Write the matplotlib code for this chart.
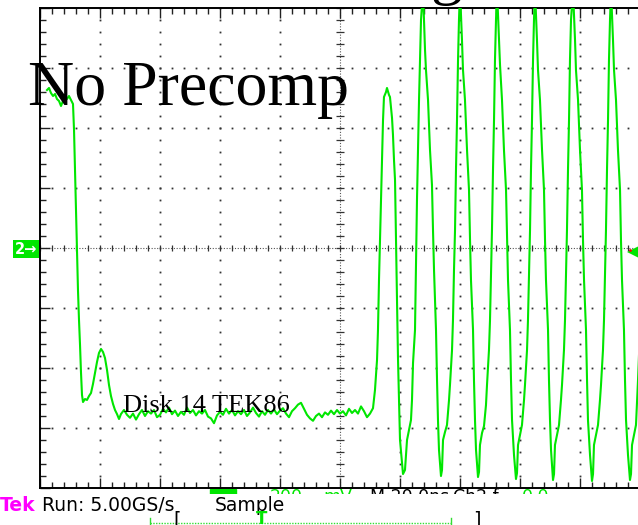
import matplotlib.pyplot as plt
from matplotlib.lines import Line2D
from matplotlib.patches import Rectangle
import numpy as np

# Channel 2 trace in screen divisions (10 x 8 graticule, 0 at centre line)
# leading high level, drop, and the small bump
lead_t = [0.117, 0.150, 0.183, 0.217, 0.250, 0.283, 0.317, 0.350, 0.383, 0.417,
          0.450, 0.483, 0.517, 0.550, 0.567, 0.583, 0.600, 0.617, 0.633, 0.650,
          0.667, 0.683, 0.700, 0.717, 0.750, 0.783, 0.817, 0.850, 0.883, 0.917,
          0.950, 0.983, 1.017, 1.050, 1.083, 1.117, 1.150, 1.183, 1.217, 1.250,
          1.283, 1.317, 1.350]
lead_v = [2.633, 2.667, 2.583, 2.533, 2.567, 2.483, 2.450, 2.367, 2.450, 2.517,
          2.483, 2.533, 2.467, 2.400, 1.967, 1.300, 0.633, -0.033, -0.700, -1.200,
          -1.617, -2.067, -2.450, -2.567, -2.517, -2.533, -2.467, -2.417, -2.267, -2.083,
          -1.900, -1.750, -1.683, -1.733, -1.833, -2.033, -2.283, -2.467, -2.600, -2.700,
          -2.767, -2.850, -2.767]

# noisy low level
base_t = [1.40, 1.45, 1.50, 1.55, 1.60, 1.65, 1.70, 1.75, 1.80, 1.85,
          1.90, 1.95, 2.00, 2.05, 2.10, 2.15, 2.20, 2.25, 2.30, 2.35,
          2.40, 2.45, 2.50, 2.55, 2.60, 2.65, 2.70, 2.75, 2.80, 2.85,
          2.90, 2.95, 3.00, 3.05, 3.10, 3.15, 3.20, 3.25, 3.30, 3.35,
          3.40, 3.45, 3.50, 3.55, 3.60, 3.65, 3.70, 3.75, 3.80, 3.85,
          3.90, 3.95, 4.00, 4.05, 4.10, 4.15, 4.20, 4.25, 4.30, 4.35,
          4.40, 4.45, 4.50, 4.55, 4.60, 4.65, 4.70, 4.75, 4.80, 4.85,
          4.90, 4.95, 5.00, 5.05, 5.10, 5.15, 5.20, 5.25, 5.30, 5.35,
          5.40, 5.45, 5.50, 5.55]
base_v = [-2.70, -2.78, -2.83, -2.76, -2.86, -2.77, -2.70, -2.80, -2.72, -2.76,
          -2.70, -2.82, -2.78, -2.68, -2.74, -2.66, -2.77, -2.71, -2.80, -2.73,
          -2.78, -2.66, -2.75, -2.70, -2.79, -2.72, -2.76, -2.70, -2.81, -2.84,
          -2.92, -2.79, -2.73, -2.78, -2.68, -2.76, -2.70, -2.79, -2.72, -2.77,
          -2.70, -2.80, -2.74, -2.66, -2.75, -2.81, -2.72, -2.78, -2.70, -2.76,
          -2.69, -2.77, -2.71, -2.67, -2.76, -2.82, -2.72, -2.67, -2.61, -2.58,
          -2.68, -2.78, -2.84, -2.88, -2.80, -2.76, -2.82, -2.74, -2.78, -2.71,
          -2.77, -2.70, -2.76, -2.72, -2.79, -2.68, -2.75, -2.70, -2.76, -2.64,
          -2.72, -2.82, -2.76, -2.67]

# isolated pulse followed by the oscillating burst (peaks run off screen)
burst_t = [5.583, 5.617, 5.633, 5.650, 5.667, 5.683, 5.700, 5.717, 5.733, 5.767,
           5.783, 5.817, 5.833, 5.867, 5.883, 5.900, 5.917, 5.933, 5.950, 5.967,
           5.983, 6.000, 6.033, 6.050, 6.083, 6.117, 6.150, 6.183, 6.200, 6.217,
           6.250, 6.267, 6.283, 6.300, 6.317, 6.333, 6.350, 6.383, 6.417, 6.433,
           6.467, 6.500, 6.533, 6.550, 6.567, 6.600, 6.617, 6.633, 6.650, 6.683,
           6.700, 6.717, 6.750, 6.783, 6.817, 6.833, 6.867, 6.883, 6.900, 6.917,
           6.933, 6.950, 6.967, 6.983, 7.000, 7.033, 7.050, 7.083, 7.117, 7.150,
           7.167, 7.183, 7.217, 7.233, 7.250, 7.267, 7.300, 7.317, 7.333, 7.367,
           7.400, 7.433, 7.450, 7.483, 7.500, 7.517, 7.533, 7.550, 7.567, 7.583,
           7.600, 7.617, 7.650, 7.667, 7.700, 7.733, 7.767, 7.783, 7.800, 7.833,
           7.850, 7.867, 7.900, 7.933, 7.950, 7.967, 8.000, 8.033, 8.067, 8.083,
           8.117, 8.133, 8.150, 8.167, 8.183, 8.200, 8.217, 8.233, 8.250, 8.283,
           8.300, 8.333, 8.367, 8.400, 8.417, 8.433, 8.467, 8.483, 8.500, 8.517,
           8.550, 8.567, 8.583, 8.617, 8.650, 8.683, 8.700, 8.733, 8.750, 8.767,
           8.783, 8.800, 8.817, 8.833, 8.850, 8.883, 8.917, 8.933, 8.967, 9.000,
           9.033, 9.050, 9.067, 9.100, 9.117, 9.133, 9.167, 9.200, 9.217, 9.233,
           9.267, 9.300, 9.333, 9.350, 9.383, 9.400, 9.417, 9.433, 9.450, 9.467,
           9.483, 9.500, 9.517, 9.550, 9.567, 9.600, 9.633, 9.667, 9.683, 9.700,
           9.733, 9.750, 9.767, 9.800, 9.833, 9.850, 9.867, 9.900, 9.933, 9.967,
           10.000]
burst_v = [-2.367, -1.867, -1.367, -0.533, 0.133, 0.800, 1.467, 2.133, 2.517, 2.600,
           2.667, 2.550, 2.517, 2.167, 1.883, 1.467, 1.133, 0.133, -0.867, -1.867,
           -2.533, -3.200, -3.583, -3.767, -3.700, -3.200, -3.033, -2.867, -2.533, -1.917,
           -1.367, -0.200, 0.800, 1.633, 2.467, 3.133, 3.800, 4.300, 3.300, 2.967,
           2.467, 1.633, 1.050, 0.300, -0.367, -1.367, -2.200, -2.867, -3.367, -3.800,
           -3.700, -3.200, -3.067, -2.950, -2.533, -2.283, -1.700, -1.200, -0.367, 0.300,
           1.300, 2.133, 3.133, 3.800, 4.300, 3.467, 2.967, 2.467, 1.633, 0.967,
           0.133, -0.533, -1.367, -2.200, -2.867, -3.367, -3.817, -3.733, -3.283, -3.083,
           -2.967, -2.617, -2.283, -1.700, -1.200, -0.450, 0.300, 1.300, 2.133, 3.133,
           3.800, 4.300, 3.467, 3.050, 2.467, 1.633, 0.967, 0.217, -0.533, -1.367,
           -2.200, -2.867, -3.450, -3.850, -3.750, -3.283, -3.117, -2.950, -2.533, -2.283,
           -1.700, -1.200, -0.450, 0.300, 1.300, 2.133, 3.133, 3.800, 4.300, 3.467,
           2.967, 2.467, 1.633, 0.967, 0.133, -0.533, -1.367, -2.200, -2.867, -3.367,
           -3.867, -3.767, -3.283, -3.117, -2.950, -2.533, -2.283, -1.700, -1.200, -0.450,
           0.300, 1.300, 2.133, 3.133, 3.800, 4.300, 3.467, 2.967, 2.467, 1.633,
           0.967, 0.133, -0.533, -1.367, -2.200, -2.867, -3.450, -3.883, -3.767, -3.283,
           -3.117, -2.950, -2.533, -2.283, -1.700, -1.200, -0.450, 0.300, 1.300, 2.133,
           3.133, 3.800, 4.300, 3.467, 2.967, 2.467, 1.633, 0.967, 0.133, -0.533,
           -1.367, -2.200, -2.867, -3.450, -3.867, -3.767, -3.283, -3.117, -2.950, -2.200,
           -1.367]

trig_level = -0.07  # trigger level marker on the right edge

t = lead_t + base_t + burst_t
v = lead_v + base_v + burst_v

W, H = 638, 525
GREEN = '#00e600'
fig = plt.figure(figsize=(W / 100, H / 100), dpi=100)
ax = fig.add_axes([40 / W, 37 / H, 600 / W, 480 / H])
ax.set_xlim(0, 10)
ax.set_ylim(-4, 4)

# graticule: dotted division lines, finer crosshair through the centre
ys = np.arange(-4, 4.001, 0.2)
xs = np.arange(0, 10.001, 0.2)
for gx in range(1, 10):
    if gx != 5:
        ax.plot(np.full(len(ys), gx), ys, ls='none', marker='s', ms=1.3,
                mew=0, color='#333333', zorder=1)
for gy in range(-3, 4):
    if gy != 0:
        ax.plot(xs, np.full(len(xs), gy), ls='none', marker='s', ms=1.3,
                mew=0, color='#333333', zorder=1)
ax.axhline(0, color='#555555', lw=0.8, ls=(0, (1, 1.5)), zorder=1)
ax.axvline(5, color='#555555', lw=0.8, ls=(0, (1, 1.5)), zorder=1)
ax.vlines(xs, -0.055, 0.055, color='#333333', lw=0.9, zorder=1)
ax.hlines(ys, 4.93, 5.07, color='#333333', lw=0.9, zorder=1)

ax.set_xticks(np.arange(0, 11, 1))
ax.set_xticks(xs, minor=True)
ax.set_yticks(np.arange(-4, 5, 1))
ax.set_yticks(ys, minor=True)
ax.tick_params(which='both', direction='in', top=True, bottom=True, left=True,
               right=False, labelbottom=False, labelleft=False, color='#222222')
ax.tick_params(which='major', length=7, width=1)
ax.tick_params(which='minor', length=4, width=1)
for side in ['left', 'top', 'bottom']:
    ax.spines[side].set_linewidth(1.4)
ax.spines['right'].set_visible(False)

ax.plot(t, v, color=GREEN, lw=1.5, zorder=3)

# trigger level arrow
ax.plot([9.88, 10.0], [trig_level, trig_level], color=GREEN, lw=1.5, zorder=4)
ax.plot(9.88, trig_level, marker='<', ms=8, color=GREEN, mew=0, zorder=4)
ax.plot(9.83, trig_level + 0.03, marker='o', ms=2, color='red', mew=0, zorder=5)

# channel 2 ground marker
fig.text(26 / W, 1 - 249 / H, '2\u2192', color='white', fontsize=10.5,
         fontweight='bold', ha='center', va='center',
         bbox=dict(boxstyle='square,pad=0.12', fc=GREEN, ec='none'))

serif = ['Liberation Serif', 'DejaVu Serif']
fig.text(28 / W, 1 - 105 / H, 'No Precomp', fontsize=46, family=serif,
         ha='left', va='baseline')
fig.text(123 / W, 1 - 412 / H, 'Disk 14 TEK86', fontsize=19, family=serif,
         ha='left', va='baseline')
fig.text(430 / W, 1 + 8 / H, 'g', fontsize=46, family=serif,
         ha='left', va='baseline')

# readout line, only its top sliver shows above the status bar
rd = fig.add_axes([0, 1 - 494 / H, 1, 5 / H])
rd.set_axis_off()
rd.set_xlim(0, W)
rd.set_ylim(494, 489)
rd.add_patch(Rectangle((210, 489), 26, 6, color=GREEN))
for rx, txt, col in [(270, '200', GREEN), (323, 'mV', GREEN),
                     (370, 'M 20.0ns', 'black'), (453, 'Ch2 \u0192', 'black'),
                     (522, '0.0', GREEN)]:
    rd.text(rx, 502, txt, color=col, fontsize=12.5, va='baseline', clip_on=True)

# status line under the screen
fig.text(0, 1 - 511 / H, 'Tek', color='#ff00ff', fontsize=13.5,
         fontweight='bold', ha='left', va='baseline')
fig.text(42 / W, 1 - 511 / H, 'Run: 5.00GS/s', fontsize=13.5,
         ha='left', va='baseline')
fig.text(215 / W, 1 - 511 / H, 'Sample', fontsize=13.5,
         ha='left', va='baseline')

# record position bar
yb = 1 - 523 / H
fig.add_artist(Line2D([150 / W, 451 / W], [yb, yb], color='#33dd33', lw=1,
                      ls=(0, (1, 1))))
fig.add_artist(Line2D([150 / W, 150 / W], [yb - 0.01, yb + 0.01], color='#33dd33', lw=1))
fig.add_artist(Line2D([451 / W, 451 / W], [yb - 0.01, yb + 0.01], color='#33dd33', lw=1))
fig.text(177 / W, 1 - 510 / H, '[', fontsize=14, ha='center', va='top')
fig.text(262 / W, 1 - 510 / H, 'T', fontsize=12, color=GREEN, fontweight='bold',
         ha='center', va='top')
fig.text(477 / W, 1 - 510 / H, ']', fontsize=14, ha='center', va='top')

fig.savefig('out.png', dpi=100)
